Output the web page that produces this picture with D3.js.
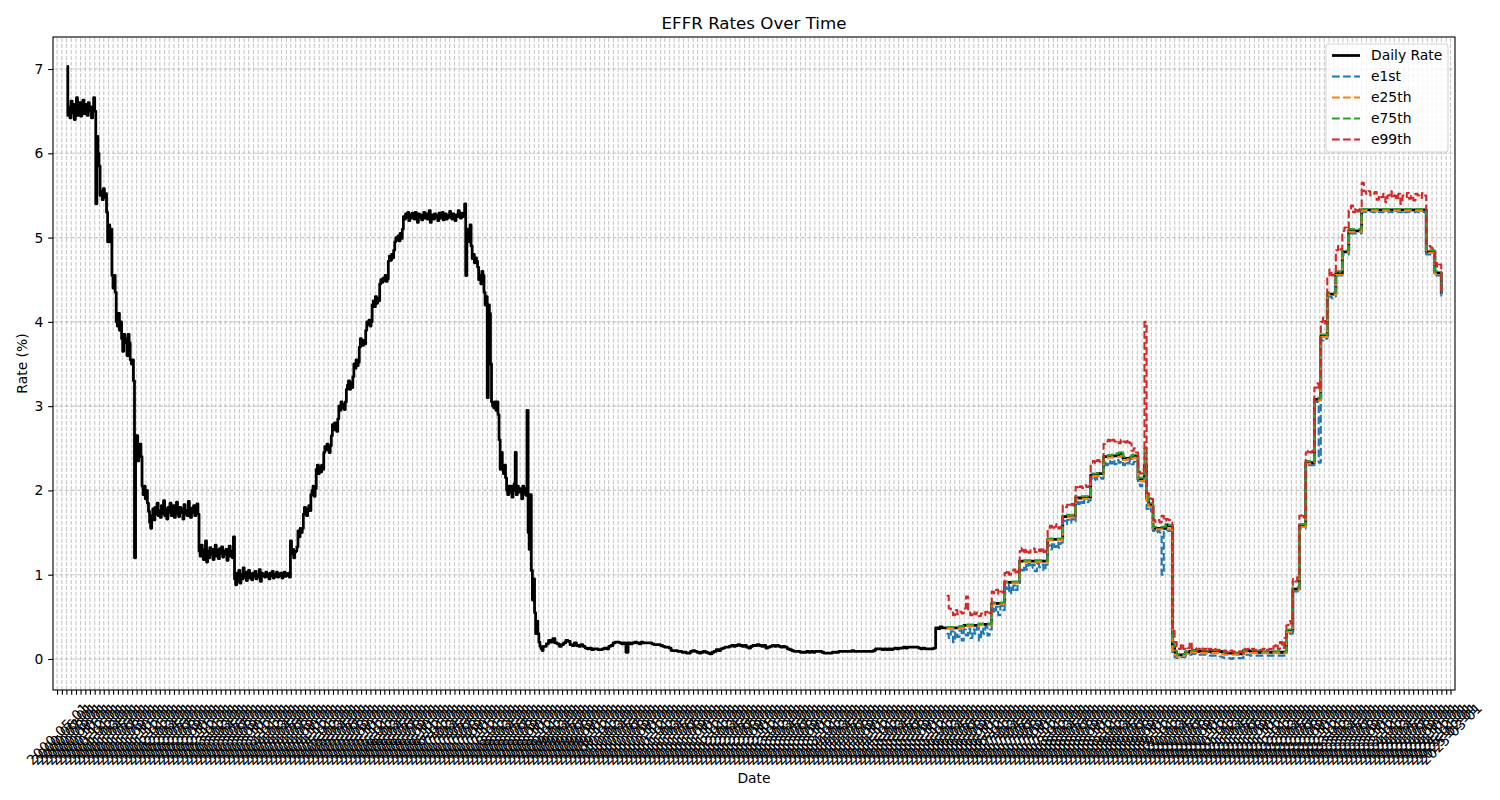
<!DOCTYPE html>
<html>
<head>
<meta charset="utf-8">
<script src="https://cdn.jsdelivr.net/npm/d3@7"></script>
<style>
  body { margin: 0; background: #ffffff; }
  svg { display: block; }
  text { font-family: "DejaVu Sans", sans-serif; }
</style>
</head>
<body>
<svg id="chart" width="1500" height="800"></svg>
<script>
// ---------------- DATA ----------------
const chartTitle = "EFFR Rates Over Time";
const xAxisLabel = "Date";
const yAxisLabel = "Rate (%)";
const seriesNames = ["Daily Rate", "e1st", "e25th", "e75th", "e99th"];
const yTickValues = [0, 1, 2, 3, 4, 5, 6, 7];
const xTickFormat = "%Y-%m-%d";

// Daily rate, weekly samples from 2000-07-03
const dailyPart1Start = "2000-07-03";
const dailyPart1StepDays = 7;
const dailyPart1 = [
  // 2000
  7.03,6.45,6.55,6.42,6.62,6.48,6.58,6.40,6.55,6.66,6.45,6.52,6.60,6.44,6.56,6.63,6.47,6.52,6.58,6.45,6.60,6.50,6.55,6.42,6.52,6.66,
  // 2001
  6.50,5.40,6.20,6.00,5.85, 5.50,5.55,5.45,5.58, 5.48,5.52,5.30,4.95, 5.15,4.95,5.10,4.55,4.40, 4.55,4.35,4.00,3.95, 4.10,3.90,4.00,3.80,
  3.65,3.85,3.75,3.80,3.60, 3.85,3.75,3.55,3.50, 3.55,3.30,1.20,2.50, 2.65,2.35,2.45,2.55,2.40, 2.05,1.95,2.05,1.90, 2.00,1.85,1.75,1.62,1.55,
  // 2002
  1.70,1.78,1.65,1.80, 1.72,1.85,1.70,1.76, 1.68,1.82,1.73,1.88, 1.70,1.78,1.66,1.80,1.74, 1.85,1.70,1.77,1.82, 1.68,1.75,1.86,1.72,
  1.69,1.80,1.74,1.78,1.66, 1.83,1.72,1.76,1.70, 1.87,1.73,1.68,1.79,1.74, 1.82,1.70,1.76,1.84, 1.72,1.28,1.22,1.35, 1.25,1.18,1.30,1.40,1.15,
  // 2003
  1.28,1.20,1.32,1.24, 1.30,1.18,1.27,1.35, 1.22,1.29,1.19,1.31,1.25, 1.33,1.21,1.28,1.24, 1.30,1.17,1.26,1.34, 1.22,1.28,1.20,1.45,0.95,
  0.88,1.02,0.92,1.05, 0.90,1.00,0.95,1.08, 0.97,1.03,0.93,1.00,1.05, 0.96,1.01,0.94,1.02, 0.98,1.04,0.95,1.00, 0.97,1.06,0.92,1.02,0.99,
  // 2004
  1.00,0.97,1.03,0.98, 1.01,0.95,1.02,0.99, 1.04,0.96,1.00,0.98,1.03, 0.97,1.01,0.99,1.02, 0.96,1.00,1.03,0.98,1.01, 0.99,1.02,0.97,1.40,
  1.25,1.30,1.20,1.27, 1.28,1.33,1.52,1.45,1.55, 1.50,1.55,1.72,1.80, 1.75,1.70,1.78,1.82, 1.76,1.95,2.00,2.05,1.93, 2.02,2.25,2.30,2.20,
  // 2005
  2.28,2.22,2.30,2.25,2.45, 2.52,2.48,2.55,2.50, 2.45,2.53,2.65,2.78, 2.72,2.80,2.75,2.70, 2.85,3.00,2.95,3.05,2.98, 3.02,2.96,3.05,3.20,
  3.25,3.30,3.20,3.28, 3.22,3.35,3.50,3.45,3.55, 3.48,3.52,3.70,3.80, 3.75,3.72,3.78,3.74,3.90, 4.00,3.97,4.02,3.95, 4.00,4.20,4.25,4.18,
  // 2006
  4.30,4.22,4.28,4.25,4.45, 4.50,4.47,4.52,4.49, 4.55,4.48,4.51,4.72, 4.78,4.73,4.80,4.76, 4.85,4.95,5.00,4.97,5.02, 4.96,5.05,4.99,5.10,
  5.25,5.22,5.28,5.24,5.30, 5.20,5.27,5.23,5.29, 5.25,5.22,5.30,5.26, 5.18,5.28,5.24,5.27,5.21, 5.26,5.30,5.23,5.28, 5.22,5.26,5.32,5.18,
  // 2007
  5.25,5.27,5.22,5.28,5.24, 5.26,5.20,5.29,5.25, 5.23,5.30,5.21,5.27, 5.28,5.22,5.26,5.24,5.31, 5.25,5.22,5.28,5.24, 5.20,5.27,5.25,5.32,
  5.26,5.23,5.29,5.25,5.28, 5.40,4.55,5.00,5.10, 4.95,5.15,4.90,4.75, 4.80,4.70,4.76,4.72,4.65, 4.50,4.55,4.45,4.60, 4.55,4.35,4.20,4.30,3.10,
  // 2008
  4.20,4.10,3.50,3.05, 3.00,2.98,3.05,2.95, 3.05,2.90,2.60,2.25,2.45, 2.25,2.20,2.30,2.15, 2.00,1.95,2.05,1.98, 2.05,1.92,2.00,2.08,2.45,
  1.95,2.05,1.98,2.02, 2.00,1.90,2.05,1.96, 2.02,1.94,2.95,1.50,1.30, 1.95,1.05,0.70,0.95, 0.55,0.30,0.45,0.30, 0.20,0.15,0.12,0.10,0.15
];

// Daily rate, two-week samples from 2009-01-05
const dailyPart2Start = "2009-01-05";
const dailyPart2StepDays = 14;
const dailyPart2 = [
  0.15,0.18,0.22,0.20,0.24,0.19,0.18,0.15,0.17,0.19,0.22,0.21,0.17,0.16,0.19,0.16,0.15,0.17,0.15,0.13,0.12,0.13,0.11,0.12,0.12,0.11,
  0.11,0.12,0.13,0.12,0.15,0.16,0.19,0.20,0.20,0.19,0.18,0.19,0.08,0.19,0.18,0.19,0.20,0.19,0.18,0.20,0.19,0.19,0.19,0.19,0.18,0.17,
  0.17,0.17,0.16,0.15,0.14,0.14,0.13,0.10,0.10,0.10,0.09,0.09,0.08,0.08,0.07,0.07,0.09,0.10,0.09,0.08,0.07,0.08,0.09,0.08,0.07,0.06,
  0.08,0.09,0.11,0.10,0.12,0.13,0.14,0.14,0.15,0.16,0.15,0.16,0.17,0.16,0.15,0.16,0.14,0.13,0.15,0.16,0.16,0.17,0.16,0.15,0.16,0.13,
  0.14,0.15,0.16,0.15,0.16,0.15,0.14,0.15,0.14,0.12,0.11,0.10,0.09,0.09,0.09,0.08,0.08,0.08,0.09,0.08,0.09,0.08,0.09,0.09,0.09,0.08,
  0.07,0.07,0.07,0.07,0.08,0.08,0.08,0.09,0.09,0.09,0.09,0.09,0.09,0.10,0.09,0.09,0.09,0.09,0.09,0.09,0.09,0.09,0.09,0.10,0.12,0.12,
  0.12,0.11,0.12,0.11,0.12,0.11,0.12,0.13,0.12,0.13,0.13,0.14,0.13,0.14,0.14,0.14,0.14,0.14,0.13,0.12,0.13,0.12,0.12,0.12,0.12,0.13,
  0.37,0.36,0.38,0.37,0.37
];

// 2016-03-08 onward, two-week samples (daily rate and percentiles)
const pctStart = "2016-03-08";
const pctStepDays = 14;
const dailyPart3 = [
  0.37,0.37,0.37,0.37,0.37,0.37,0.38,0.38,0.40,0.40,0.40,0.40,0.40,0.40,0.40,0.41,0.41,0.41,0.41,0.41,0.41,
  0.66,0.66,0.66,0.66,0.66,0.66,
  0.91,0.91,0.91,0.91,0.91,0.91,0.91,
  1.16,1.16,1.16,1.16,1.16,1.16,1.16,1.16,1.16,1.16,1.16,1.16,1.16,
  1.42,1.42,1.42,1.42,1.42,1.42,1.42,
  1.69,1.69,1.70,1.70,1.70,1.70,
  1.91,1.91,1.91,1.91,1.92,1.92,1.92,
  2.18,2.18,2.19,2.20,2.20,2.20,
  2.40,2.40,2.40,2.40,2.41,2.41,2.41,2.42,2.44,2.38,2.38,2.38,2.38,2.40,2.41,2.40,
  2.13,2.13,2.13,
  2.30,
  1.90,1.83,1.82,
  1.55,1.55,1.55,1.55,1.55,1.55,1.59,1.58,1.58,
  0.15,
  0.08,0.05,0.05,0.05,0.05,0.08,0.08,0.09,0.10,0.10,0.10,0.09,0.09,0.09,0.09,0.09,0.09,0.08,0.09,0.09,
  0.09,0.09,0.08,0.07,0.07,0.07,0.07,0.07,0.07,0.06,0.06,0.06,
  0.10,0.10,0.10,0.09,0.09,0.08,0.08,0.08,0.08,0.08,0.08,0.08,0.08,0.08,0.08,0.08,0.08,0.08,0.08,0.08,
  0.33,0.33,0.33,
  0.83,0.83,0.83,
  1.58,1.58,1.58,
  2.33,2.33,2.33,2.33,
  3.08,3.08,3.08,
  3.83,3.83,3.83,
  4.33,4.33,4.33,4.33,
  4.58,4.57,4.57,
  4.83,4.83,4.83,
  5.08,5.08,5.08,5.08,5.08,5.08,
  5.33,5.33,5.33,5.33,5.33,5.33,5.33,5.33,5.33,5.33,
  5.33,5.33,5.33,5.33,5.33,5.33,5.33,5.33,5.33,5.33,
  5.33,5.33,5.33,5.33,5.33,5.33,5.33,5.33,5.33,5.33,
  4.83,4.83,4.83,4.83,
  4.58,4.58,4.58,
  4.33
];

const e1st = [
  0.30,0.25,0.33,0.20,0.32,0.26,0.34,0.22,0.35,0.28,0.36,0.25,0.35,0.30,0.37,0.22,0.36,0.30,0.38,0.28,0.35,
  0.60,0.55,0.62,0.52,0.63,0.58,
  0.85,0.80,0.88,0.78,0.87,0.82,0.88,
  1.10,1.05,1.12,1.06,1.13,1.08,1.12,1.04,1.13,1.09,1.12,1.05,1.12,
  1.35,1.30,1.38,1.33,1.38,1.32,1.38,
  1.64,1.60,1.65,1.62,1.66,1.63,
  1.87,1.84,1.88,1.85,1.88,1.86,1.88,
  2.14,2.12,2.15,2.13,2.15,2.14,
  2.33,2.30,2.35,2.32,2.36,2.31,2.36,2.33,2.35,2.30,2.34,2.32,2.35,2.31,2.34,2.33,
  2.07,2.05,2.08,
  2.15,
  1.78,1.75,1.78,
  1.52,1.50,1.52,1.50,1.00,1.51,1.53,1.52,1.52,
  0.05,
  0.02,0.01,0.01,0.02,0.02,0.04,0.05,0.05,0.06,0.06,0.05,0.05,0.05,0.05,0.05,0.04,0.04,0.04,0.04,0.04,
  0.04,0.03,0.02,0.01,0.01,0.01,0.00,0.01,0.01,0.01,0.01,0.01,
  0.05,0.05,0.05,0.04,0.04,0.04,0.04,0.04,0.04,0.04,0.04,0.04,0.04,0.04,0.04,0.04,0.04,0.04,0.04,0.04,
  0.30,0.30,0.30,
  0.80,0.80,0.80,
  1.55,1.55,1.55,
  2.30,2.30,2.30,2.30,
  3.05,3.05,2.33,
  3.78,3.80,3.80,
  4.30,4.30,4.28,4.30,
  4.55,4.55,4.55,
  4.80,4.80,4.80,
  5.05,5.05,5.05,5.05,5.05,5.05,
  5.30,5.31,5.30,5.30,5.31,5.30,5.30,5.31,5.30,5.30,
  5.31,5.30,5.30,5.31,5.30,5.30,5.31,5.30,5.30,5.31,
  5.30,5.30,5.31,5.30,5.30,5.31,5.30,5.30,5.31,5.30,
  4.80,4.80,4.80,4.80,
  4.55,4.55,4.55,
  4.30
];

const e25th = [
  0.36,0.36,0.36,0.36,0.36,0.36,0.37,0.37,0.38,0.39,0.39,0.39,0.39,0.39,0.39,0.40,0.40,0.40,0.40,0.40,0.40,
  0.65,0.65,0.65,0.65,0.65,0.65,
  0.90,0.90,0.90,0.90,0.90,0.90,0.90,
  1.15,1.15,1.15,1.15,1.15,1.15,1.15,1.15,1.15,1.15,1.15,1.15,1.15,
  1.41,1.41,1.41,1.41,1.41,1.41,1.41,
  1.68,1.68,1.68,1.68,1.68,1.68,
  1.90,1.90,1.90,1.90,1.90,1.90,1.90,
  2.17,2.17,2.17,2.17,2.17,2.17,
  2.38,2.38,2.39,2.39,2.40,2.40,2.40,2.40,2.41,2.36,2.36,2.37,2.36,2.38,2.39,2.38,
  2.11,2.11,2.11,
  2.25,
  1.85,1.81,1.80,
  1.54,1.54,1.54,1.54,1.54,1.54,1.54,1.54,1.54,
  0.10,
  0.05,0.03,0.03,0.04,0.04,0.06,0.07,0.08,0.08,0.08,0.07,0.07,0.07,0.07,0.07,0.07,0.07,0.07,0.07,0.07,
  0.07,0.07,0.06,0.05,0.05,0.05,0.05,0.05,0.05,0.05,0.05,0.05,
  0.08,0.08,0.08,0.07,0.07,0.07,0.07,0.07,0.07,0.07,0.07,0.07,0.07,0.07,0.07,0.07,0.07,0.07,0.07,0.07,
  0.32,0.32,0.32,
  0.82,0.82,0.82,
  1.57,1.57,1.57,
  2.32,2.32,2.32,2.32,
  3.07,3.07,3.07,
  3.82,3.82,3.82,
  4.32,4.32,4.32,4.32,
  4.56,4.56,4.56,
  4.82,4.82,4.82,
  5.07,5.07,5.07,5.07,5.07,5.07,
  5.32,5.32,5.32,5.32,5.32,5.32,5.32,5.32,5.32,5.32,
  5.32,5.32,5.32,5.32,5.32,5.32,5.32,5.32,5.32,5.32,
  5.32,5.32,5.32,5.32,5.32,5.32,5.32,5.32,5.32,5.32,
  4.82,4.82,4.82,4.82,
  4.57,4.57,4.57,
  4.32
];

const e75th = [
  0.38,0.38,0.38,0.38,0.38,0.38,0.39,0.39,0.41,0.41,0.41,0.41,0.41,0.41,0.41,0.42,0.42,0.42,0.42,0.42,0.42,
  0.67,0.67,0.67,0.67,0.67,0.67,
  0.92,0.92,0.92,0.92,0.92,0.92,0.92,
  1.17,1.17,1.17,1.17,1.17,1.17,1.17,1.17,1.17,1.17,1.17,1.17,1.17,
  1.43,1.43,1.43,1.43,1.43,1.43,1.43,
  1.71,1.71,1.71,1.71,1.71,1.71,
  1.93,1.93,1.93,1.93,1.93,1.93,1.93,
  2.20,2.20,2.20,2.20,2.20,2.20,
  2.41,2.41,2.42,2.42,2.43,2.43,2.44,2.45,2.47,2.40,2.40,2.40,2.40,2.42,2.43,2.42,
  2.15,2.15,2.15,
  2.50,
  1.93,1.87,1.85,
  1.57,1.57,1.57,1.57,1.57,1.57,1.60,1.59,1.59,
  0.20,
  0.10,0.06,0.06,0.06,0.06,0.09,0.10,0.10,0.10,0.10,0.10,0.10,0.10,0.10,0.10,0.10,0.10,0.10,0.10,0.10,
  0.10,0.10,0.09,0.08,0.08,0.08,0.08,0.08,0.07,0.07,0.07,0.07,
  0.10,0.10,0.10,0.10,0.10,0.10,0.10,0.10,0.09,0.09,0.09,0.09,0.09,0.09,0.09,0.09,0.09,0.09,0.09,0.09,
  0.35,0.35,0.35,
  0.85,0.85,0.85,
  1.60,1.60,1.60,
  2.35,2.35,2.35,2.35,
  3.10,3.10,3.10,
  3.85,3.85,3.85,
  4.35,4.35,4.35,4.35,
  4.60,4.60,4.60,
  4.85,4.85,4.85,
  5.10,5.10,5.10,5.10,5.10,5.10,
  5.34,5.34,5.34,5.34,5.34,5.34,5.34,5.34,5.34,5.34,
  5.34,5.34,5.34,5.34,5.34,5.34,5.34,5.34,5.34,5.34,
  5.34,5.34,5.34,5.34,5.34,5.34,5.34,5.34,5.34,5.34,
  4.85,4.85,4.85,4.85,
  4.60,4.60,4.60,
  4.35
];

const e99th = [
  0.75,0.60,0.55,0.52,0.58,0.53,0.56,0.54,0.60,0.74,0.55,0.52,0.56,0.53,0.55,0.51,0.54,0.52,0.56,0.53,0.55,
  0.80,0.78,0.82,0.77,0.80,0.79,
  1.02,1.05,1.00,1.03,1.06,1.01,1.04,
  1.28,1.32,1.27,1.30,1.26,1.29,1.31,1.27,1.30,1.28,1.32,1.27,1.30,
  1.55,1.58,1.54,1.57,1.60,1.55,1.57,
  1.82,1.80,1.83,1.81,1.84,1.82,
  2.04,2.02,2.05,2.03,2.06,2.04,2.05,
  2.33,2.35,2.32,2.36,2.34,2.35,
  2.55,2.58,2.60,2.57,2.60,2.58,2.59,2.56,2.60,2.58,2.57,2.60,2.56,2.47,2.50,2.45,
  2.22,2.20,2.25,
  4.00,
  1.97,1.95,1.90,
  1.65,1.63,1.65,1.62,1.70,1.64,1.66,1.65,1.63,
  0.35,
  0.20,0.15,0.12,0.18,0.12,0.14,0.13,0.20,0.12,0.13,0.11,0.12,0.14,0.11,0.12,0.10,0.12,0.11,0.13,0.11,
  0.11,0.10,0.09,0.10,0.08,0.09,0.10,0.08,0.09,0.08,0.09,0.08,
  0.12,0.11,0.12,0.11,0.12,0.10,0.11,0.10,0.11,0.12,0.10,0.11,0.12,0.10,0.15,0.18,0.12,0.20,0.13,0.25,
  0.40,0.45,0.42,
  0.95,0.92,0.97,
  1.70,1.72,1.68,
  2.45,2.48,2.45,2.47,
  3.22,3.27,3.20,
  4.00,4.05,3.98,
  4.55,4.62,4.55,4.60,
  4.85,4.90,4.86,
  5.08,5.12,5.10,
  5.32,5.38,5.30,5.35,5.31,5.36,
  5.65,5.55,5.52,5.55,5.50,5.52,5.54,5.45,5.50,5.48,
  5.52,5.42,5.50,5.55,5.47,5.50,5.45,5.52,5.40,5.50,
  5.48,5.53,5.46,5.50,5.44,5.52,5.50,5.47,5.53,5.50,
  4.93,4.90,4.88,4.85,
  4.70,4.65,4.68,
  4.35
];

// ---------------- BUILD ----------------
const parseDate = d3.utcParse("%Y-%m-%d");
function sampled(start, stepDays, values) {
  const s = parseDate(start);
  return values.map((v, i) => ({ date: d3.utcDay.offset(s, i * stepDays), value: v }));
}
const dailySeries = [].concat(
  sampled(dailyPart1Start, dailyPart1StepDays, dailyPart1),
  sampled(dailyPart2Start, dailyPart2StepDays, dailyPart2),
  sampled(pctStart, pctStepDays, dailyPart3)
);
// last observation of the daily file
dailySeries.push({ date: parseDate("2024-12-31"), value: dailyPart3[dailyPart3.length - 1] });

const allSeries = [
  { name: seriesNames[0], data: dailySeries, color: "#000000", width: 2.78, dash: null },
  { name: seriesNames[1], data: sampled(pctStart, pctStepDays, e1st), color: "#1f77b4", width: 2.08, dash: "7.71,3.33" },
  { name: seriesNames[2], data: sampled(pctStart, pctStepDays, e25th), color: "#ff7f0e", width: 2.08, dash: "7.71,3.33" },
  { name: seriesNames[3], data: sampled(pctStart, pctStepDays, e75th), color: "#2ca02c", width: 2.08, dash: "7.71,3.33" },
  { name: seriesNames[4], data: sampled(pctStart, pctStepDays, e99th), color: "#d62728", width: 2.08, dash: "7.71,3.33" }
];

// ---------------- LAYOUT ----------------
const PT = 100 / 72;
const fs = 10 * PT;          // 13.89 px
const plot = { left: 53, right: 1455, top: 37, bottom: 690 };
const tickLen = 3.5 * PT, tickPad = 3.5 * PT;

const svg = d3.select("#chart");
svg.append("rect").attr("width", 1500).attr("height", 800).attr("fill", "#ffffff");

const allDates = allSeries.flatMap(s => s.data.map(d => d.date));
const [dMin, dMax] = d3.extent(allDates);
const span = dMax - dMin;
const x = d3.scaleUtc()
  .domain([new Date(+dMin - 0.01 * span), new Date(+dMax + 0.01 * span)])
  .range([plot.left, plot.right]);
const y = d3.scaleLinear().domain([-0.368, 7.38]).range([plot.bottom, plot.top]);

const monthTicks = x.ticks(d3.utcMonth.every(1));

// grid
const grid = svg.append("g").attr("stroke", "#b0b0b0").attr("stroke-opacity", 0.7)
  .attr("stroke-width", 0.8 * PT).attr("stroke-dasharray", (3.7 * 0.8 * PT) + "," + (1.6 * 0.8 * PT));
grid.selectAll("line.v").data(monthTicks).join("line").attr("class", "v")
  .attr("x1", d => x(d)).attr("x2", d => x(d)).attr("y1", plot.bottom).attr("y2", plot.top);
grid.selectAll("line.h").data(yTickValues).join("line").attr("class", "h")
  .attr("x1", plot.left).attr("x2", plot.right).attr("y1", d => y(d)).attr("y2", d => y(d));

// lines
const clip = svg.append("clipPath").attr("id", "clip").append("rect")
  .attr("x", plot.left).attr("y", plot.top).attr("width", plot.right - plot.left).attr("height", plot.bottom - plot.top);
const lineGen = d3.line().x(d => x(d.date)).y(d => y(d.value)).curve(d3.curveStepAfter);
const linesG = svg.append("g").attr("clip-path", "url(#clip)");
allSeries.forEach(s => {
  linesG.append("path").datum(s.data)
    .attr("d", lineGen)
    .attr("fill", "none")
    .attr("stroke", s.color)
    .attr("stroke-width", s.width)
    .attr("stroke-linejoin", "round")
    .attr("stroke-dasharray", s.dash);
});

// x axis
const fmt = d3.utcFormat(xTickFormat);
const xAxisG = svg.append("g").attr("transform", `translate(0,${plot.bottom})`)
  .call(d3.axisBottom(x).tickValues(monthTicks).tickFormat(fmt).tickSize(tickLen).tickPadding(tickPad));
xAxisG.select(".domain").remove();
xAxisG.selectAll(".tick line").attr("stroke", "#000").attr("stroke-width", 0.8 * PT);
const probe = svg.append("text").attr("font-size", fs).text(fmt(monthTicks[0]));
const labelW = probe.node().getComputedTextLength();
probe.remove();
const labelH = fs * 1.164;
const rotBox = (labelW + labelH) * Math.SQRT1_2;
xAxisG.selectAll(".tick text")
  .attr("font-size", fs).attr("font-family", "DejaVu Sans").attr("fill", "#000")
  .attr("y", null).attr("dy", null)
  .attr("text-anchor", "middle")
  .attr("dominant-baseline", "central")
  .attr("transform", `translate(0,${tickLen + tickPad + rotBox / 2}) rotate(-45)`);

// y axis
const yAxisG = svg.append("g").attr("transform", `translate(${plot.left},0)`)
  .call(d3.axisLeft(y).tickValues(yTickValues).tickFormat(d3.format("d")).tickSize(tickLen).tickPadding(tickPad));
yAxisG.select(".domain").remove();
yAxisG.selectAll(".tick line").attr("stroke", "#000").attr("stroke-width", 0.8 * PT);
yAxisG.selectAll(".tick text").attr("font-size", fs).attr("font-family", "DejaVu Sans").attr("fill", "#000");

// spines
svg.append("rect").attr("x", plot.left).attr("y", plot.top)
  .attr("width", plot.right - plot.left).attr("height", plot.bottom - plot.top)
  .attr("fill", "none").attr("stroke", "#000").attr("stroke-width", 0.8 * PT);

// title & labels
svg.append("text").attr("x", (plot.left + plot.right) / 2).attr("y", plot.top - 6 * PT)
  .attr("text-anchor", "middle").attr("font-size", 12 * PT).text(chartTitle);
svg.append("text").attr("x", (plot.left + plot.right) / 2).attr("y", 783)
  .attr("text-anchor", "middle").attr("font-size", fs).text(xAxisLabel);
svg.append("text").attr("transform", `translate(26.5,${(plot.top + plot.bottom) / 2}) rotate(-90)`)
  .attr("text-anchor", "middle").attr("font-size", fs).text(yAxisLabel);

// legend
const legend = svg.append("g");
const lgX = 1326, lgY = 44, lgW = 122, lgH = 108;
legend.append("rect").attr("x", lgX).attr("y", lgY).attr("width", lgW).attr("height", lgH)
  .attr("rx", 2.8).attr("fill", "#ffffff").attr("fill-opacity", 0.8)
  .attr("stroke", "#cccccc").attr("stroke-opacity", 0.8).attr("stroke-width", 0.8 * PT);
allSeries.forEach((s, i) => {
  const ry = 55.5 + i * 21;
  legend.append("line").attr("x1", 1332).attr("x2", 1360).attr("y1", ry).attr("y2", ry)
    .attr("stroke", s.color).attr("stroke-width", s.width).attr("stroke-dasharray", s.dash);
  legend.append("text").attr("x", 1371).attr("y", ry + 0.33 * fs).attr("font-size", fs).text(s.name);
});
</script>
</body>
</html>
